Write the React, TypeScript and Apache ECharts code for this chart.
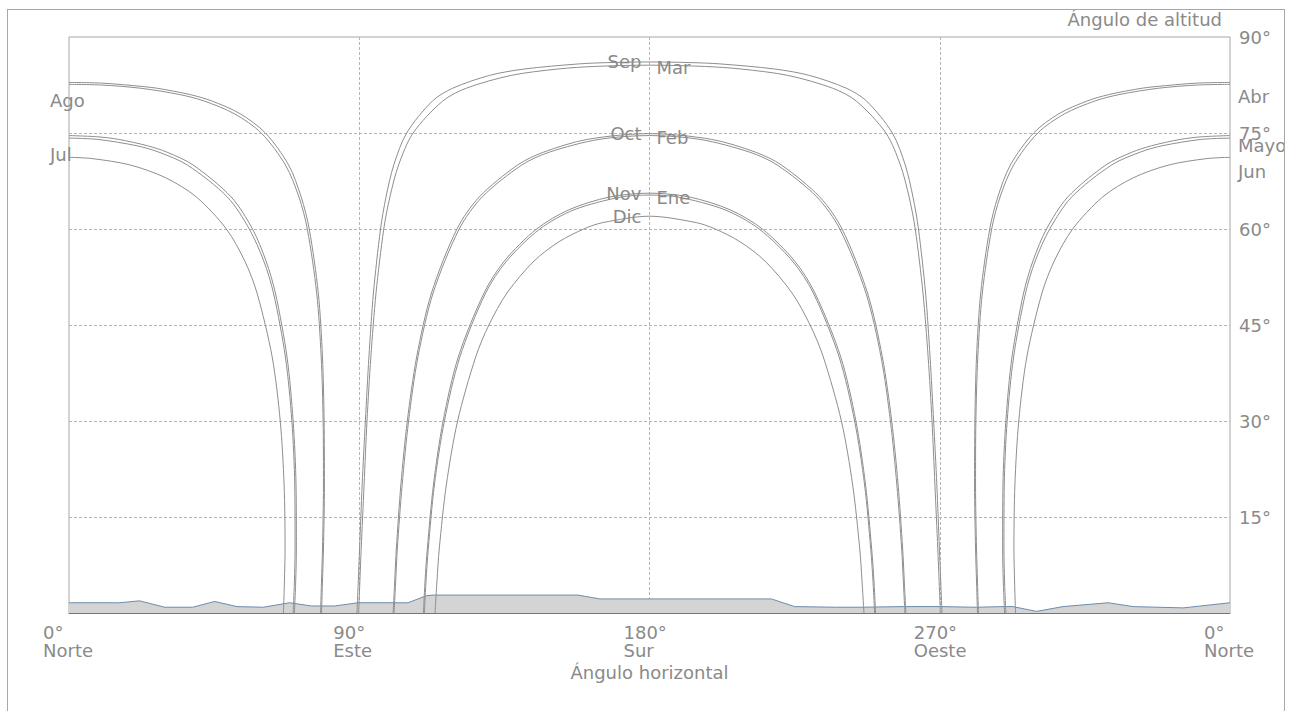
import React, { useEffect, useRef } from "react";
import * as echarts from "echarts";

type Pt = [number, number];

// Sun paths, [azimuth (deg from north), altitude (deg)]
const sepPath: Pt[] = [[89.3,0],[89.7,5],[90.1,10],[90.9,20],[91.9,30],[93.0,40],[94.4,50],[96.6,60],[98.3,65],[100.7,70],[104.7,75],[112.7,80],[119.0,82],[130.4,84],[141.2,85],[158.2,85.8],[167.1,86.0],[180,86.1],[192.9,86.0],[201.8,85.8],[218.8,85],[229.6,84],[241.0,82],[247.3,80],[255.3,75],[259.3,70],[261.7,65],[263.4,60],[265.6,50],[267.0,40],[268.1,30],[269.1,20],[269.9,10],[270.3,5],[270.7,0]];
const marPath: Pt[] = [[89.8,0],[90.2,5],[90.6,10],[91.5,20],[92.4,30],[93.6,40],[95.2,50],[97.6,60],[99.5,65],[102.2,70],[106.7,75],[115.9,80],[123.2,82],[137.1,84],[151.6,85],[163.0,85.4],[180,85.6],[197.0,85.4],[208.4,85],[222.9,84],[236.8,82],[244.1,80],[253.3,75],[257.8,70],[260.5,65],[262.4,60],[264.8,50],[266.4,40],[267.6,30],[268.5,20],[269.4,10],[269.8,5],[270.2,0]];
const octPath: Pt[] = [[100.5,0],[101.0,5],[101.5,10],[102.9,20],[104.9,30],[107.8,40],[112.4,50],[120.3,60],[127.2,65],[139.1,70],[147.1,72],[160.7,74],[180,74.9],[199.3,74],[212.9,72],[220.9,70],[232.8,65],[239.7,60],[247.6,50],[252.2,40],[255.1,30],[257.1,20],[258.5,10],[259.0,5],[259.5,0]];
const febPath: Pt[] = [[100.8,0],[101.3,5],[101.8,10],[103.3,20],[105.3,30],[108.2,40],[112.9,50],[121.0,60],[128.1,65],[140.4,70],[148.9,72],[164.3,74],[180,74.6],[195.7,74],[211.1,72],[219.6,70],[231.9,65],[239.0,60],[247.1,50],[251.8,40],[254.7,30],[256.7,20],[258.2,10],[258.7,5],[259.2,0]];
const novPath: Pt[] = [[109.9,0],[110.4,5],[111.1,10],[113.0,20],[116.0,30],[120.7,40],[128.7,50],[135.0,55],[145.0,60],[155.0,63],[167.6,65],[180,65.6],[192.4,65],[205.0,63],[215.0,60],[225.0,55],[231.3,50],[239.3,40],[244.0,30],[247.0,20],[248.9,10],[249.6,5],[250.1,0]];
const enePath: Pt[] = [[110.2,0],[110.7,5],[111.4,10],[113.3,20],[116.4,30],[121.2,40],[129.2,50],[135.7,55],[146.0,60],[156.6,63],[171.2,65],[180,65.3],[188.8,65],[203.4,63],[214.0,60],[224.3,55],[230.8,50],[238.8,40],[243.6,30],[246.7,20],[248.6,10],[249.3,5],[249.8,0]];
const dicPath: Pt[] = [[113.5,0],[114.1,5],[114.8,10],[117.0,20],[120.5,30],[126.1,40],[130.2,45],[135.8,50],[144.2,55],[151.9,58],[159.6,60],[165.5,61],[180,62.0],[194.5,61],[200.4,60],[208.1,58],[215.8,55],[224.2,50],[229.8,45],[233.9,40],[239.5,30],[243.0,20],[245.2,10],[245.9,5],[246.5,0]];

// Months with the sun to the north at noon: morning part (from 0°) and afternoon part (to 360°)
const junAm: Pt[] = [[0,71.2],[7.2,71],[19.0,70],[30.0,68],[39.5,65],[48.8,60],[54.5,55],[58.3,50],[63.0,40],[65.5,30],[66.7,20],[67.0,10],[66.8,5],[66.5,0]];
const junPm: Pt[] = [[293.5,0],[293.2,5],[293.0,10],[293.3,20],[294.5,30],[297.0,40],[301.7,50],[305.5,55],[311.2,60],[320.5,65],[330.0,68],[341.0,70],[352.8,71],[360,71.2]];
const julAm: Pt[] = [[0,74.2],[8.9,74],[21.1,73],[27.9,72],[36.7,70],[49.1,65],[55.9,60],[60.4,55],[63.4,50],[67.1,40],[69.1,30],[70.0,20],[70.1,10],[69.9,5],[69.5,0]];
const julPm: Pt[] = [[290.5,0],[290.1,5],[289.9,10],[290.0,20],[290.9,30],[292.9,40],[296.6,50],[299.6,55],[304.1,60],[310.9,65],[323.3,70],[332.1,72],[338.9,73],[351.1,74],[360,74.2]];
const mayAm: Pt[] = [[0,74.6],[9.0,74.4],[15.4,74],[24.4,73],[30.4,72],[38.5,70],[50.3,65],[56.9,60],[61.1,55],[64.0,50],[67.6,40],[69.5,30],[70.4,20],[70.5,10],[70.3,5],[69.9,0]];
const mayPm: Pt[] = [[290.1,0],[289.7,5],[289.5,10],[289.6,20],[290.5,30],[292.4,40],[296.0,50],[298.9,55],[303.1,60],[309.7,65],[321.5,70],[329.6,72],[335.6,73],[344.6,74],[351.0,74.4],[360,74.6]];
const agoAm: Pt[] = [[0,82.6],[10.0,82.5],[22.1,82],[34.4,81],[41.9,80],[51.3,78],[59.6,75],[67.1,70],[71.3,65],[73.9,60],[76.8,50],[78.2,40],[78.8,30],[78.9,20],[78.6,10],[78.3,5],[78.0,0]];
const agoPm: Pt[] = [[282.0,0],[281.7,5],[281.4,10],[281.1,20],[281.2,30],[281.8,40],[283.2,50],[286.1,60],[288.7,65],[292.9,70],[300.4,75],[308.7,78],[318.1,80],[325.6,81],[337.9,82],[350.0,82.5],[360,82.6]];
const abrAm: Pt[] = [[0,82.9],[10.0,82.8],[20.0,82.4],[27.2,82],[37.6,81],[44.3,80],[53.1,78],[60.9,75],[68.1,70],[72.0,65],[74.5,60],[77.3,50],[78.6,40],[79.1,30],[79.2,20],[78.9,10],[78.6,5],[78.3,0]];
const abrPm: Pt[] = [[281.7,0],[281.4,5],[281.1,10],[280.8,20],[280.9,30],[281.4,40],[282.7,50],[285.5,60],[288.0,65],[291.9,70],[299.1,75],[306.9,78],[315.7,80],[322.4,81],[332.8,82],[340.0,82.4],[350.0,82.8],[360,82.9]];

// Local horizon profile
const horizonAz = [0, 15.7, 21.9, 29.7, 38.3, 45.2, 52.1, 60.2, 68.4, 75.2, 82.4, 89.6, 105.1, 110.8, 112.9, 157.8, 164.6, 217.8, 225.0, 238.0, 245.2, 258.6, 270.0, 281.4, 289.6, 292.7, 300.0, 308.2, 322.2, 330.0, 345.5, 360];
const horizonAlt = [1.6, 1.6, 1.9, 0.9, 0.9, 1.8, 1.0, 0.9, 1.6, 1.1, 1.1, 1.6, 1.6, 2.7, 2.8, 2.8, 2.2, 2.2, 1.0, 0.9, 0.9, 1.0, 1.0, 0.9, 1.0, 1.0, 0.25, 1.0, 1.6, 1.0, 0.8, 1.6];

// Axis tick labels
const xTickDegrees = ["0°", "90°", "180°", "270°", "0°"];
const xTickNames = ["Norte", "Este", "Sur", "Oeste", "Norte"];
const yTickLabels = ["", "15°", "30°", "45°", "60°", "75°", "90°"];
const yAxisTitle = "Ángulo de altitud";
const xAxisTitle = "Ángulo horizontal";

const FONT = "DejaVu Sans";
const TEXT = "#8a8a8a";
const CURVE = "#8e8e8e";
const GRIDLINE = "#b4b4b4";

type Side = "southLeft" | "southRight" | "northLeft" | "northRight" | "northRightHigh";

function labelStyle(side: Side) {
  const base = { show: true, color: TEXT, fontFamily: FONT, fontSize: 18 };
  switch (side) {
    case "southLeft":
      return { ...base, position: "left", distance: 8, offset: [0, 0] };
    case "southRight":
      return { ...base, position: "right", distance: 7, offset: [0, 2] };
    case "northLeft":
      return { ...base, position: "right", distance: 0, offset: [-19, 16] };
    case "northRight":
      return { ...base, position: "right", distance: 8, offset: [0, 14] };
    case "northRightHigh":
      return { ...base, position: "right", distance: 8, offset: [0, 10] };
  }
}

function pathSeries(name: string, pts: Pt[], labelAt?: Pt, side?: Side) {
  const s: any = {
    type: "line",
    name,
    data: pts,
    smooth: 0.3,
    symbol: "none",
    showSymbol: false,
    silent: true,
    z: 3,
    lineStyle: { color: CURVE, width: 1 },
  };
  if (labelAt && side) {
    s.markPoint = {
      symbol: "circle",
      symbolSize: 0,
      silent: true,
      z: 5,
      data: [{ coord: labelAt, name, value: 0 }],
      label: { ...labelStyle(side), formatter: name },
    };
  }
  return s;
}

const peak = (pts: Pt[]) => pts.find((p) => p[0] === 180) as Pt;
const first = (pts: Pt[]) => pts[0];
const last = (pts: Pt[]) => pts[pts.length - 1];

const series: any[] = [
  {
    type: "line",
    name: "Horizonte",
    data: horizonAz.map((az, i) => [az, horizonAlt[i]]),
    symbol: "none",
    silent: true,
    z: 1,
    lineStyle: { color: "#6c8cae", width: 1 },
    areaStyle: { color: "#d4d4d4", opacity: 1 },
  },
  pathSeries("Sep", sepPath, peak(sepPath), "southLeft"),
  pathSeries("Mar", marPath, peak(marPath), "southRight"),
  pathSeries("Oct", octPath, peak(octPath), "southLeft"),
  pathSeries("Feb", febPath, peak(febPath), "southRight"),
  pathSeries("Nov", novPath, peak(novPath), "southLeft"),
  pathSeries("Ene", enePath, peak(enePath), "southRight"),
  pathSeries("Dic", dicPath, peak(dicPath), "southLeft"),
  pathSeries("Ago", agoAm, first(agoAm), "northLeft"),
  pathSeries("Ago ", agoPm),
  pathSeries("Abr ", abrAm),
  pathSeries("Abr", abrPm, last(abrPm), "northRight"),
  pathSeries("Jul", julAm, first(julAm), "northLeft"),
  pathSeries("Jul ", julPm),
  pathSeries("Mayo ", mayAm),
  pathSeries("Mayo", mayPm, last(mayPm), "northRightHigh"),
  pathSeries("Jun ", junAm),
  pathSeries("Jun", junPm, last(junPm), "northRight"),
];

const option: any = {
  animation: false,
  backgroundColor: "#ffffff",
  textStyle: { fontFamily: FONT },
  grid: {
    left: 61,
    top: 27,
    width: 1161,
    height: 576,
    show: true,
    borderColor: "#a6a6a6",
    borderWidth: 1,
    containLabel: false,
    outerBoundsMode: "none",
  },
  // Altitude axis title, right-aligned just left of the right-hand axis
  graphic: [
    {
      type: "text",
      right: 62,
      top: 0,
      silent: true,
      style: {
        text: yAxisTitle,
        fill: TEXT,
        font: `18px "${FONT}"`,
      },
    },
  ],
  xAxis: {
    type: "value",
    min: 0,
    max: 360,
    interval: 90,
    axisLine: { show: true, lineStyle: { color: "#5b7b9c", width: 1 } },
    axisTick: { show: false },
    splitLine: {
      show: true,
      showMinLine: false,
      showMaxLine: false,
      lineStyle: { color: GRIDLINE, type: [3, 2], width: 1 },
    },
    axisLabel: {
      margin: 10,
      showMinLabel: true,
      showMaxLabel: true,
      hideOverlap: false,
      formatter: (v: number) => {
        const i = Math.round(v / 90);
        return `{a|${xTickDegrees[i]}}\n{a|${xTickNames[i]}}`;
      },
      rich: {
        a: { width: 52, align: "left", fontFamily: FONT, fontSize: 18, lineHeight: 18, color: TEXT },
      },
    },
    name: xAxisTitle,
    nameLocation: "middle",
    nameGap: 46,
    nameTextStyle: { fontFamily: FONT, fontSize: 18, lineHeight: 18, color: TEXT },
  },
  yAxis: {
    type: "value",
    position: "right",
    min: 0,
    max: 90,
    interval: 15,
    axisLine: { show: false },
    axisTick: { show: false },
    splitLine: {
      show: true,
      showMinLine: false,
      showMaxLine: false,
      lineStyle: { color: GRIDLINE, type: [3, 2], width: 1 },
    },
    axisLabel: {
      margin: 9,
      showMinLabel: true,
      showMaxLabel: true,
      formatter: (v: number) => yTickLabels[Math.round(v / 15)],
      fontFamily: FONT,
      fontSize: 18,
      color: TEXT,
    },
  },
  series,
};

export default function App() {
  const ref = useRef<HTMLDivElement>(null);
  useEffect(() => {
    if (!ref.current) return;
    const chart = echarts.init(ref.current, undefined, { renderer: "svg" });
    chart.setOption(option);
    return () => chart.dispose();
  }, []);
  return (
    <div
      style={{
        position: "fixed",
        left: 7,
        top: 9,
        width: 1276,
        height: 720,
        border: "1px solid #a8a8a8",
        overflow: "hidden",
        background: "#ffffff",
      }}
    >
      <div ref={ref} style={{ width: 1276, height: 720 }} />
    </div>
  );
}
